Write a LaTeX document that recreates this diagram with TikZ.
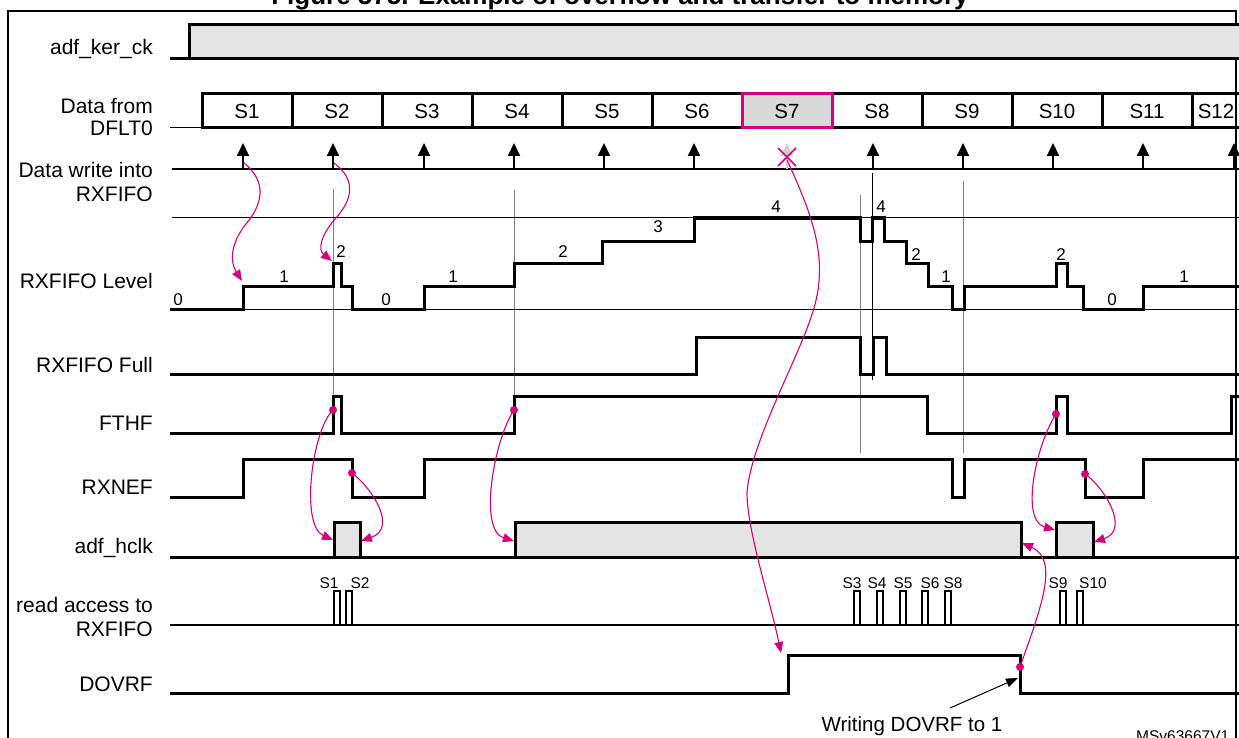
\documentclass[tikz,border=0pt]{standalone}
\usepackage{fontspec}
\setmainfont{Liberation Sans}
\usetikzlibrary{arrows.meta}
\definecolor{mag}{HTML}{D4007A}
\definecolor{boxgray}{HTML}{E4E4E4}
\definecolor{sevgray}{HTML}{D9D9D9}
\definecolor{guidec}{HTML}{7F7F7F}
\begin{document}
\begin{tikzpicture}[x=1pt,y=-1pt,
  lbl/.style={anchor=east, align=right, inner sep=0pt, font=\fontsize{21}{24}\selectfont},
  sig/.style={line width=3pt, line join=miter},
  thinl/.style={line width=1.5pt},
  hair/.style={line width=1pt},
  guide/.style={draw=guidec, line width=1pt},
  dbox/.style={draw, line width=3pt, minimum width=90pt, minimum height=34pt, inner sep=0pt, font=\fontsize{20.5}{24}\selectfont},
  lvl/.style={inner sep=0pt, font=\fontsize{17}{20}\selectfont},
  rdl/.style={inner sep=0pt, font=\fontsize{15.5}{19}\selectfont},
  wr/.style={line width=2pt, -{Triangle[length=13pt,width=12pt]}},
  mg/.style={draw=mag, line width=1.1pt, -{Triangle[length=11pt,width=9pt]}},
  mdot/.style={circle, fill=mag, inner sep=0pt, minimum size=8pt},
  hbox/.style={sig, fill=boxgray}
]
\useasboundingbox (0,0) rectangle (1239,738);
\clip (0,0) rectangle (1239,738);

% title
\node[anchor=base, inner sep=0pt, font=\fontsize{26}{30}\selectfont\bfseries] (title) at (620,5) {Figure 575. Example of overflow and transfer to memory};

% frame
\draw[line width=2pt] (8,760) -- (8,11) -- (1236,11) -- (1236,760);

% labels
\node[lbl] (lker) at (153,49) {adf\_ker\_ck};
\node[lbl] (ldata) at (153,117) {Data from\\[-2pt]DFLT0};
\node[lbl] (lwr) at (153,182) {Data write into\\RXFIFO};
\node[lbl] (llev) at (153,281) {RXFIFO Level};
\node[lbl] (lfull) at (153,365) {RXFIFO Full};
\node[lbl] (lfthf) at (153,423) {FTHF};
\node[lbl] (lnef) at (153,487) {RXNEF};
\node[lbl] (lhclk) at (153,548) {adf\_hclk};
\node[lbl] (lrd) at (153,617) {read access to\\RXFIFO};
\node[lbl] (ldov) at (153,684) {DOVRF};

% adf_ker_ck
\draw[sig] (170,59) -- (189,59);
\draw[hbox] (189,59) rectangle (1250,25);

% data from DFLT0
\draw[hair] (170,128) -- (202,128);
\node[dbox] (s1) at (247,111) {S1};
\node[dbox] (s2) at (337,111) {S2};
\node[dbox] (s3) at (427,111) {S3};
\node[dbox] (s4) at (517,111) {S4};
\node[dbox] (s5) at (607,111) {S5};
\node[dbox] (s6) at (697,111) {S6};
\node[dbox] (s8) at (877,111) {S8};
\node[dbox] (s9) at (967,111) {S9};
\node[dbox] (s10) at (1057,111) {S10};
\node[dbox] (s11) at (1147,111) {S11};
\node[dbox, minimum width=48pt] (s12) at (1216,111) {S12};
\node[dbox, draw=mag, fill=sevgray] (s7) at (787,111) {S7};

% data write into RXFIFO
\draw[thinl] (172,169) -- (1240,169);
\foreach \x in {243,333,424,514,604,694,873,963,1053,1143,1234}
  \draw[wr] (\x,169) -- (\x,143);
\draw[line width=2pt, draw=black!18, -{Triangle[length=13pt,width=12pt]}] (787,169) -- (787,143);
\draw[mag, line width=1.6pt] (778,148) -- (796,166) (778,166) -- (796,148);
\coordinate (x7) at (787,160);

% guide lines
\draw[guide] (333,189) -- (333,433);
\draw[guide] (514,190) -- (514,398);
\draw[guide] (860,195) -- (860,453);
\draw[hair] (872,173) -- (872,380);
\draw[guide] (963,181) -- (963,453);

% RXFIFO level
\draw[hair] (172,218) -- (1240,218);
\draw[hair] (170,309) -- (1240,309);
\draw[sig] (170,309) -- (243,309) -- (243,286.5) -- (333,286.5) -- (333,263.5) -- (341,263.5) -- (341,286.5) -- (352,286.5) -- (352,309) -- (424,309) -- (424,286.5) -- (514,286.5) -- (514,263.5) -- (602,263.5) -- (602,241) -- (694,241) -- (694,218) -- (860,218) -- (860,241) -- (872,241) -- (872,218) -- (884,218) -- (884,241) -- (906,241) -- (906,263.5) -- (928,263.5) -- (928,286.5) -- (952,286.5) -- (952,309) -- (964,309) -- (964,286.5) -- (1056,286.5) -- (1056,263.5) -- (1067,263.5) -- (1067,286.5) -- (1083,286.5) -- (1083,309) -- (1143,309) -- (1143,286.5) -- (1240,286.5);
\node[lvl] (v0a) at (178,300) {0};
\node[lvl] (v1a) at (284,277) {1};
\node[lvl] (v2a) at (341,252) {2};
\node[lvl] (v0b) at (386,300) {0};
\node[lvl] (v1b) at (453,277) {1};
\node[lvl] (v2b) at (563,252) {2};
\node[lvl] (v3a) at (658,227) {3};
\node[lvl] (v4a) at (776,207) {4};
\node[lvl] (v4b) at (881,207) {4};
\node[lvl] (v2c) at (916,255) {2};
\node[lvl] (v1c) at (946,277) {1};
\node[lvl] (v2d) at (1061,255) {2};
\node[lvl] (v0c) at (1112,300) {0};
\node[lvl] (v1d) at (1184,277) {1};

% RXFIFO Full
\draw[sig] (170,374) -- (696,374) -- (696,337) -- (860,337) -- (860,374) -- (873,374) -- (873,337) -- (886,337) -- (886,374) -- (1240,374);

% FTHF
\draw[sig] (170,433) -- (333,433) -- (333,396) -- (341,396) -- (341,433) -- (514,433) -- (514,396) -- (927,396) -- (927,433) -- (1056,433) -- (1056,396) -- (1067,396) -- (1067,433) -- (1231,433) -- (1231,396) -- (1240,396);

% RXNEF
\draw[sig] (170,497) -- (243,497) -- (243,459) -- (352,459) -- (352,497) -- (424,497) -- (424,459) -- (952,459) -- (952,497) -- (964,497) -- (964,459) -- (1085,459) -- (1085,497) -- (1143,497) -- (1143,459) -- (1240,459);

% adf_hclk
\draw[sig] (170,557) -- (1240,557);
\draw[hbox] (334,557) rectangle (360,522);
\draw[hbox] (515,557) rectangle (1021,522);
\draw[hbox] (1056,557) rectangle (1093,522);

% read access
\draw[thinl] (170,625) -- (1240,625);
\foreach \a/\b in {334/340,346/352,854/860,877/883,900/906,922/928,945/951,1060/1066,1077/1083}
  \draw[line width=1.2pt] (\a,625) rectangle (\b,591);
\node[rdl] (r1) at (329,583) {S1};
\node[rdl] (r2) at (360,583) {S2};
\node[rdl] (r3) at (852,583) {S3};
\node[rdl] (r4) at (877,583) {S4};
\node[rdl] (r5) at (903,583) {S5};
\node[rdl] (r6) at (930,583) {S6};
\node[rdl] (r8) at (953,583) {S8};
\node[rdl] (r9) at (1058,583) {S9};
\node[rdl] (r10) at (1093,583) {S10};

% DOVRF
\draw[sig] (170,693) -- (788,693) -- (788,655) -- (1020,655) -- (1020,693) -- (1240,693);

% annotation
\node[inner sep=0pt, font=\fontsize{20.5}{24}\selectfont] (wd) at (912,726) {Writing DOVRF to 1};
\node[anchor=base west, inner sep=0pt, font=\fontsize{15.5}{18}\selectfont] (ms) at (1136,741) {MSv63667V1};
\coordinate (wdA) at (950,708);
\coordinate (dovfall) at (1018,678);
\draw[line width=1pt, -{Triangle[length=12pt,width=9pt]}] (wdA) -- (dovfall);

% magenta dots
\node[mdot] (dF1) at (333,410) {};
\node[mdot] (dF2) at (514,410) {};
\node[mdot] (dF3) at (1056,414) {};
\node[mdot] (dN1) at (352,473) {};
\node[mdot] (dN2) at (1085,474) {};
\node[mdot] (dD) at (1020,667) {};

% magenta connectors
\coordinate (w1) at (244,163);
\coordinate (lv1) at (242,281);
\coordinate (w2) at (334,163);
\coordinate (lv2) at (332,261);
\coordinate (hk1L) at (333,540);
\coordinate (hk1R) at (361,541);
\coordinate (hk2L) at (514,541);
\coordinate (hk3L) at (1055,530);
\coordinate (hk3R) at (1094,542);
\coordinate (hk2R) at (1022,543);
\coordinate (dovrise) at (781,653);

\draw[mg] (w1) .. controls (268,182) and (262,205) .. (246,224) .. controls (230,244) and (230,262) .. (lv1);
\draw[mg] (w2) .. controls (357,180) and (352,200) .. (336,218) .. controls (320,236) and (318,250) .. (lv2);
\draw[mg] (dF1.center) .. controls (312,430) and (300,525) .. (hk1L);
\draw[mg] (dN1.center) .. controls (372,488) and (398,528) .. (hk1R);
\draw[mg] (dF2.center) .. controls (494,440) and (478,530) .. (hk2L);
\draw[mg] (dF3.center) .. controls (1036,445) and (1020,520) .. (hk3L);
\draw[mg] (dN2.center) .. controls (1105,488) and (1130,530) .. (hk3R);
\draw[mg] (dD.center) .. controls (1040,610) and (1060,560) .. (hk2R);
\draw[mg] (x7) .. controls (812,215) and (832,262) .. (810,320) .. controls (797,360) and (750,445) .. (747,493) .. controls (747,530) and (770,600) .. (dovrise);
\end{tikzpicture}
\end{document}
